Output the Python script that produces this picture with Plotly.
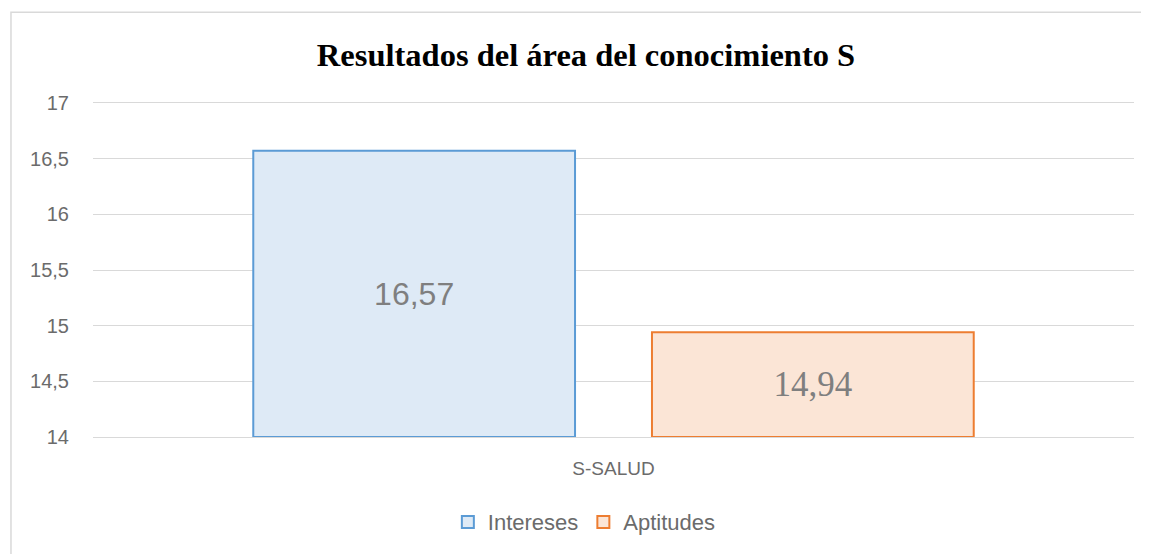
import plotly.graph_objects as go

# data
CATEGORIES = ["S-SALUD"]
INTERESES = [16.57]
APTITUDES = [14.94]
Y_MIN, Y_MAX = 14, 17
Y_TICKS = [14, 14.5, 15, 15.5, 16, 16.5, 17]

SANS = "Liberation Sans, Arial, sans-serif"
SERIF = "Liberation Serif, Times New Roman, serif"
TICK_GREY = "#6b6b6b"
LABEL_GREY = "#7f7f7f"
GRID = "#d9d9d9"


def bar(values, name, fill, edge, font):
    # bars start at the axis floor so the value label sits mid-bar
    return go.Bar(
        x=CATEGORIES,
        y=[v - Y_MIN for v in values],
        base=Y_MIN,
        customdata=values,
        name=name,
        marker=dict(color=fill, line=dict(color=edge, width=2)),
        texttemplate="%{customdata:.2f}",
        textposition="inside",
        insidetextanchor="middle",
        textfont=dict(family=font[0], size=font[1], color=LABEL_GREY),
        hovertemplate="%{x}: %{customdata:.2f}<extra>" + name + "</extra>",
    )


fig = go.Figure()
fig.add_trace(bar(INTERESES, "Intereses", "#deeaf6", "#5b9bd5", (SANS, 32)))
fig.add_trace(bar(APTITUDES, "Aptitudes", "#fbe5d6", "#ed7d31", (SERIF, 35)))

# outer chart frame (clipped on right and bottom like the original)
fig.add_shape(
    type="rect", xref="paper", yref="paper",
    x0=-0.0788, x1=1.05, y0=-0.6, y1=1.2716,
    line=dict(color=GRID, width=1.5), layer="below",
)

fig.update_layout(
    width=1141,
    height=546,
    margin=dict(l=85, r=15, t=95, b=116),
    paper_bgcolor="white",
    plot_bgcolor="white",
    separators=",.",
    barmode="group",
    bargap=0.234,
    bargroupgap=0.193,
    title=dict(
        text="<b>Resultados del área del conocimiento S</b>",
        x=0.5066, xanchor="center", y=0.914, yanchor="middle",
        font=dict(family=SERIF, size=32.5, color="black"),
    ),
    legend=dict(
        orientation="h", x=0.472, xanchor="center", y=-0.251, yanchor="middle",
        font=dict(family=SANS, size=22, color=TICK_GREY),
        traceorder="normal",
    ),
    showlegend=True,
)
fig.update_yaxes(
    range=[Y_MIN, Y_MAX],
    tickvals=Y_TICKS,
    showgrid=True,
    gridcolor=GRID,
    gridwidth=1.3,
    zeroline=False,
    ticks="",
    ticklabelstandoff=23,
    tickfont=dict(family=SANS, size=20, color=TICK_GREY),
)
# mirrored x line doubles as the top (17) gridline
fig.update_xaxes(
    showline=True,
    mirror=True,
    linecolor=GRID,
    linewidth=1.3,
    ticks="",
    ticklabelstandoff=14,
    tickfont=dict(family=SANS, size=19, color=TICK_GREY),
)

fig.write_html("out.html")
